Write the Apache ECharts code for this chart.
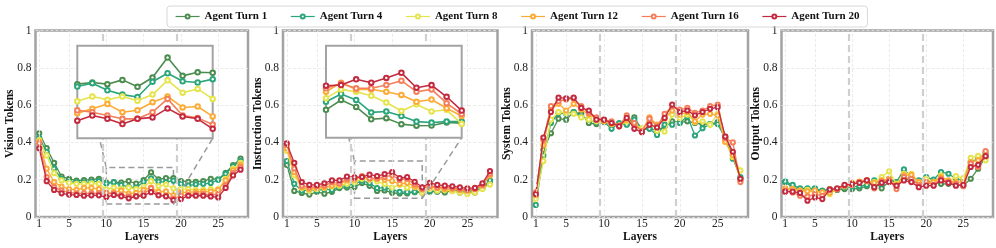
<!DOCTYPE html>
<html><head><meta charset="utf-8">
<script src="https://cdn.jsdelivr.net/npm/echarts@6/dist/echarts.min.js"></script>
<style>html,body{margin:0;padding:0;background:#fff}#c{width:996px;height:248px}</style>
</head><body><div id="c"></div>
<script>
// ---------- data ----------
const layers = [1,2,3,4,5,6,7,8,9,10,11,12,13,14,15,16,17,18,19,20,21,22,23,24,25,26,27,28];
const turnNames = ['Agent Turn 1','Agent Turn 4','Agent Turn 8','Agent Turn 12','Agent Turn 16','Agent Turn 20'];
const panelNames = ['Vision Tokens','Instruction Tokens','System Tokens','Output Tokens'];
const xTickValues = [1,5,10,15,20,25];
const yTickValues = [0,0.2,0.4,0.6,0.8,1];
const boundaryLayers = [9.5,19.5];
const insetLayers = [10,19];
const insetRangeVision = [0.07,0.265];
const insetRangeInstruction = [0.1,0.3];

const visionT1  = [0.449,0.37,0.29,0.217,0.205,0.195,0.198,0.2,0.205,0.184,0.1875,0.184,0.193,0.1785,0.198,0.240,0.2015,0.209,0.208,0.193,0.189,0.188,0.193,0.205,0.202,0.237,0.278,0.313];
const visionT4  = [0.425,0.35,0.26,0.205,0.19,0.186,0.186,0.188,0.192,0.179,0.186,0.171,0.162,0.157,0.189,0.207,0.19,0.1875,0.1946,0.178,0.168,0.175,0.178,0.182,0.2,0.232,0.272,0.30];
const visionT8  = [0.413,0.33,0.235,0.196,0.183,0.178,0.178,0.181,0.178,0.148,0.158,0.151,0.158,0.149,0.162,0.192,0.166,0.174,0.153,0.15,0.15,0.145,0.145,0.15,0.15,0.205,0.26,0.29];
const visionT12 = [0.404,0.259,0.187,0.163,0.15,0.145,0.156,0.156,0.15,0.123,0.132,0.142,0.125,0.129,0.146,0.158,0.135,0.137,0.116,0.132,0.132,0.135,0.136,0.136,0.145,0.196,0.25,0.28];
const visionT16 = [0.395,0.214,0.16,0.141,0.132,0.127,0.127,0.127,0.127,0.129,0.125,0.118,0.111,0.111,0.125,0.153,0.118,0.113,0.099,0.114,0.118,0.123,0.123,0.118,0.123,0.168,0.235,0.268];
const visionT20 = [0.368,0.192,0.145,0.127,0.12,0.118,0.114,0.116,0.116,0.107,0.118,0.111,0.1,0.111,0.114,0.133,0.116,0.111,0.09,0.096,0.114,0.114,0.114,0.11,0.105,0.156,0.223,0.254];

const instrT1  = [0.28,0.14,0.129,0.12,0.135,0.125,0.135,0.155,0.158,0.1606,0.182,0.167,0.140,0.1425,0.1295,0.126,0.1265,0.133,0.1317,0.136,0.136,0.132,0.141,0.132,0.136,0.132,0.155,0.187];
const instrT4  = [0.30,0.178,0.141,0.145,0.141,0.15,0.145,0.163,0.168,0.178,0.195,0.182,0.155,0.157,0.147,0.135,0.133,0.135,0.135,0.141,0.138,0.145,0.145,0.138,0.145,0.141,0.159,0.196];
const instrT8  = [0.355,0.223,0.156,0.141,0.15,0.156,0.163,0.168,0.178,0.186,0.205,0.2,0.191,0.1765,0.158,0.1727,0.157,0.1606,0.130,0.15,0.141,0.145,0.138,0.132,0.123,0.132,0.15,0.174];
const instrT12 = [0.368,0.241,0.159,0.15,0.156,0.159,0.168,0.178,0.196,0.200,0.2196,0.205,0.205,0.200,0.193,0.178,0.183,0.164,0.147,0.159,0.156,0.15,0.15,0.145,0.141,0.15,0.168,0.223];
const instrT16 = [0.386,0.26,0.168,0.159,0.163,0.168,0.186,0.18,0.204,0.2074,0.218,0.2074,0.2074,0.2145,0.224,0.200,0.205,0.175,0.1515,0.168,0.159,0.159,0.156,0.15,0.145,0.15,0.172,0.232];
const instrT20 = [0.395,0.29,0.187,0.172,0.172,0.181,0.196,0.196,0.217,0.213,0.2145,0.227,0.2196,0.230,0.241,0.2087,0.2145,0.189,0.159,0.183,0.172,0.168,0.165,0.159,0.154,0.156,0.181,0.246];

const systemT1  = [0.114,0.36,0.449,0.527,0.522,0.563,0.553,0.504,0.498,0.513,0.495,0.498,0.498,0.534,0.467,0.476,0.462,0.486,0.513,0.507,0.513,0.504,0.498,0.498,0.509,0.431,0.332,0.205];
const systemT4  = [0.065,0.33,0.504,0.558,0.553,0.563,0.54,0.522,0.509,0.509,0.473,0.504,0.495,0.522,0.473,0.473,0.44,0.495,0.495,0.504,0.54,0.437,0.476,0.498,0.498,0.422,0.313,0.214];
const systemT8  = [0.096,0.30,0.522,0.563,0.558,0.553,0.534,0.522,0.513,0.516,0.498,0.49,0.513,0.498,0.476,0.513,0.462,0.458,0.549,0.531,0.549,0.509,0.513,0.495,0.553,0.404,0.322,0.25];
const systemT12 = [0.118,0.386,0.576,0.607,0.571,0.607,0.576,0.549,0.527,0.513,0.498,0.486,0.522,0.495,0.462,0.534,0.495,0.527,0.571,0.549,0.563,0.513,0.549,0.553,0.545,0.404,0.332,0.196];
const systemT16 = [0.132,0.413,0.594,0.621,0.63,0.636,0.594,0.558,0.534,0.522,0.513,0.49,0.545,0.504,0.458,0.527,0.486,0.553,0.594,0.576,0.585,0.558,0.571,0.594,0.603,0.422,0.4,0.187];
const systemT20 = [0.123,0.426,0.563,0.64,0.636,0.64,0.585,0.571,0.522,0.522,0.504,0.486,0.531,0.473,0.455,0.495,0.48,0.531,0.603,0.563,0.571,0.545,0.563,0.58,0.589,0.431,0.35,0.205];

const outputT1  = [0.187,0.16,0.15,0.15,0.15,0.136,0.145,0.145,0.15,0.15,0.154,0.165,0.187,0.154,0.19,0.187,0.214,0.19,0.183,0.187,0.196,0.178,0.178,0.172,0.168,0.205,0.259,0.322];
const outputT4  = [0.19,0.172,0.154,0.154,0.154,0.141,0.15,0.15,0.16,0.16,0.165,0.172,0.196,0.178,0.205,0.187,0.255,0.214,0.196,0.214,0.201,0.241,0.232,0.205,0.196,0.295,0.313,0.34];
const outputT8  = [0.15,0.15,0.141,0.145,0.132,0.129,0.123,0.15,0.165,0.172,0.187,0.19,0.187,0.214,0.245,0.178,0.232,0.232,0.187,0.205,0.187,0.223,0.187,0.219,0.208,0.317,0.328,0.304];
const outputT12 = [0.154,0.15,0.141,0.138,0.141,0.132,0.13,0.15,0.168,0.183,0.19,0.196,0.183,0.196,0.205,0.168,0.223,0.226,0.187,0.187,0.187,0.214,0.196,0.187,0.187,0.295,0.304,0.35];
const outputT16 = [0.141,0.132,0.114,0.11,0.123,0.114,0.15,0.15,0.168,0.172,0.187,0.196,0.154,0.19,0.196,0.15,0.214,0.205,0.172,0.187,0.172,0.205,0.187,0.178,0.165,0.286,0.268,0.353];
const outputT20 = [0.136,0.136,0.129,0.087,0.105,0.096,0.147,0.154,0.172,0.178,0.183,0.196,0.16,0.183,0.187,0.168,0.196,0.187,0.16,0.168,0.168,0.196,0.183,0.168,0.172,0.268,0.28,0.326];

const panelSeries = [
  [visionT1,visionT4,visionT8,visionT12,visionT16,visionT20],
  [instrT1,instrT4,instrT8,instrT12,instrT16,instrT20],
  [systemT1,systemT4,systemT8,systemT12,systemT16,systemT20],
  [outputT1,outputT4,outputT8,outputT12,outputT16,outputT20]
];

// ---------- style ----------
const colors = ['#4C8C4F','#2BA57A','#E6E44C','#FDAB36','#F47F5A','#C42A3F'];
const FONT = 'Liberation Serif';
const frameColor = '#a3a3a3';
const panelLeft = [35.5, 283, 532, 781.5];
const panelWidth = [212.5, 214.5, 216, 211.5];
const plotTop = 30.5, plotHeight = 186.5;
const insetBoxes = [
  {left:77.3, top:45.7, width:135.4, height:92.6, panel:0, range:insetRangeVision},
  {left:326, top:45.7, width:135.7, height:92, panel:1, range:insetRangeInstruction}
];

const grids = [], xAxes = [], yAxes = [], series = [];
panelLeft.forEach((l,i)=>{
  grids.push({left:l, top:plotTop, width:panelWidth[i], height:plotHeight, show:true,
    outerBoundsMode:'none', containLabel:false,
    borderColor:frameColor, borderWidth:2.5, backgroundColor:'transparent'});
  xAxes.push({type:'value', gridIndex:i, min:0.5, max:29,
    name:'Layers', nameLocation:'middle', nameGap:14, nameMoveOverlap:false,
    nameTextStyle:{fontFamily:FONT, fontWeight:'bold', fontSize:11.5, color:'#111'},
    axisLine:{show:false}, axisTick:{show:false}, splitLine:{show:false},
    axisLabel:{customValues:xTickValues, margin:1, fontFamily:FONT, fontSize:11.5, color:'#222'}});
  yAxes.push({type:'value', gridIndex:i, min:0, max:1, interval:0.2,
    name:panelNames[i], nameLocation:'middle', nameGap:19, nameMoveOverlap:false,
    nameTextStyle:{fontFamily:FONT, fontWeight:'bold', fontSize:11.5, color:'#111'},
    axisLine:{show:false}, axisTick:{show:false},
    splitLine:{show:true, lineStyle:{type:[3,2], color:'#e4e4e4', width:0.8}},
    axisLabel:{margin:4, fontFamily:FONT, fontSize:11.5, color:'#222',
      formatter:v=> (v===0||v===1)? String(v) : v.toFixed(1)}});
});
insetBoxes.forEach((b,k)=>{
  grids.push({left:b.left, top:b.top, width:b.width, height:b.height, show:true, z:10,
    outerBoundsMode:'none', containLabel:false,
    borderColor:frameColor, borderWidth:2, backgroundColor:'#fff'});
  xAxes.push({type:'value', gridIndex:4+k, min:insetLayers[0], max:insetLayers[1], show:false});
  yAxes.push({type:'value', gridIndex:4+k, min:b.range[0], max:b.range[1], show:false, splitLine:{show:false}});
});

// grid lines / boundary lines (behind data)
for (let i=0;i<4;i++){
  const ml = xTickValues.map(v=>({xAxis:v, lineStyle:{type:[3,2], color:'#e4e4e4', width:0.8}}))
    .concat(boundaryLayers.map(v=>({xAxis:v, lineStyle:{type:[7,4], color:'#cfcfcf', width:2.2}})));
  series.push({type:'line', xAxisIndex:i, yAxisIndex:i, data:[], z:1, silent:true,
    markLine:{silent:true, symbol:['none','none'], label:{show:false}, data:ml, animation:false}});
}
// data series
panelSeries.forEach((arrs,p)=>{
  arrs.forEach((arr,t)=>{
    series.push({type:'line', name:turnNames[t], xAxisIndex:p, yAxisIndex:p, z:2+t*0.01,
      data:layers.map((L,j)=>[L,arr[j]]),
      symbol:'emptyCircle', symbolSize:4.2, color:colors[t],
      lineStyle:{width:1.3, color:colors[t]}, itemStyle:{color:colors[t], borderWidth:1},
      emphasis:{disabled:true}, animation:false});
  });
});
// inset series
insetBoxes.forEach((b,k)=>{
  panelSeries[b.panel].forEach((arr,t)=>{
    series.push({type:'line', name:turnNames[t], xAxisIndex:4+k, yAxisIndex:4+k, z:12+t*0.01, clip:true,
      data:layers.map((L,j)=>[L,arr[j]]),
      symbol:'emptyCircle', symbolSize:4.5, color:colors[t],
      lineStyle:{width:1.6, color:colors[t]}, itemStyle:{color:colors[t], borderWidth:1},
      emphasis:{disabled:true}, animation:false});
  });
  // dashed indicator rectangle in the main panel
  series.push({type:'line', xAxisIndex:b.panel, yAxisIndex:b.panel, data:[], z:5, silent:true,
    markArea:{silent:true, itemStyle:{color:'rgba(0,0,0,0)', borderColor:'#9a9a9a', borderWidth:1.5, borderType:[6,3.5]},
      data:[[{xAxis:insetLayers[0], yAxis:b.range[0]},{xAxis:insetLayers[1], yAxis:b.range[1]}]]}});
});

const chart = echarts.init(document.getElementById('c'), null, {renderer:'canvas'});
chart.setOption({
  animation:false,
  backgroundColor:'#fff',
  legend:{data:turnNames, left:167, top:6, itemWidth:24, itemHeight:5, itemGap:23,
    padding:[5,8,5,8], borderColor:'#d8d8d8', borderWidth:1, borderRadius:3,
    lineStyle:{width:1.2}, itemStyle:{borderWidth:1},
    textStyle:{fontFamily:FONT, fontWeight:'bold', fontSize:11, color:'#111'}},
  grid:grids, xAxis:xAxes, yAxis:yAxes, series:series
});

// connector lines between indicator rectangles and insets
const graphics = [];
insetBoxes.forEach((b,k)=>{
  const a1 = chart.convertToPixel({gridIndex:b.panel},[insetLayers[0], b.range[1]]);
  const a2 = chart.convertToPixel({gridIndex:4+k},[insetLayers[0], b.range[1]]);
  const c1 = chart.convertToPixel({gridIndex:b.panel},[insetLayers[1], b.range[0]]);
  const c2 = chart.convertToPixel({gridIndex:4+k},[insetLayers[1], b.range[0]]);
  [[a1,a2],[c1,c2]].forEach(([p,q])=>{
    graphics.push({type:'line', silent:true, z:4,
      shape:{x1:p[0],y1:p[1],x2:q[0],y2:q[1]},
      style:{stroke:'#9a9a9a', lineWidth:1.5, lineDash:[6,4]}});
  });
});
chart.setOption({graphic:graphics});
</script>
</body></html>
